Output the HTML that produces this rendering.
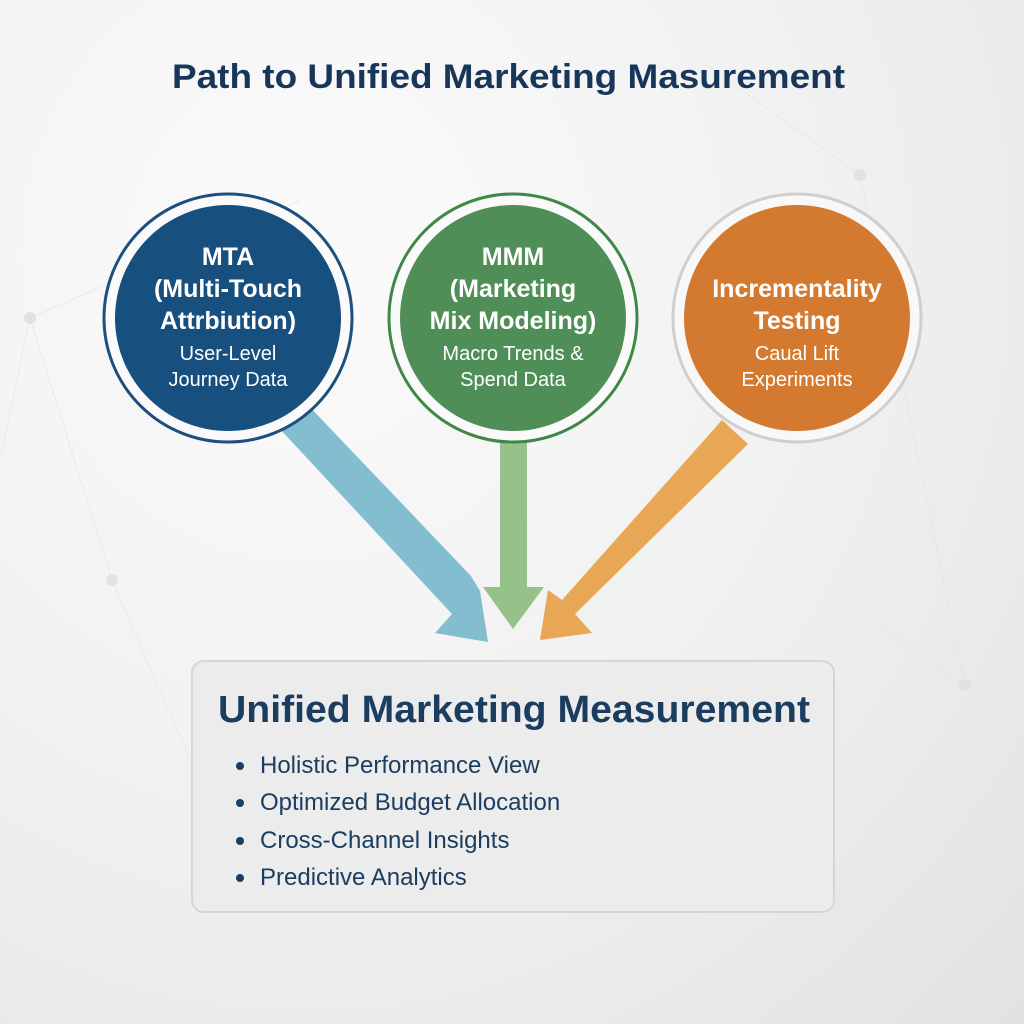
<!DOCTYPE html>
<html><head><meta charset="utf-8"><style>
html,body{margin:0;padding:0;width:1024px;height:1024px;overflow:hidden;}
body{background:radial-gradient(ellipse at 30% 25%,#fbfbfb 0%,#f0f0f0 55%,#e2e2e2 100%);}
svg{position:absolute;left:0;top:0;}
text{font-family:"Liberation Sans",sans-serif;}
</style></head><body>
<svg width="1024" height="1024" viewBox="0 0 1024 1024">
<g stroke="#e2e2e2" stroke-width="1" fill="none" opacity="0.6">
<line x1="30" y1="318" x2="112" y2="580"/><line x1="30" y1="318" x2="300" y2="200"/>
<line x1="112" y1="580" x2="190" y2="760"/><line x1="860" y1="175" x2="965" y2="685"/>
<line x1="860" y1="175" x2="700" y2="60"/><line x1="965" y1="685" x2="840" y2="600"/>
<line x1="0" y1="460" x2="30" y2="318"/>
</g>
<g fill="#e2e2e2"><circle cx="30" cy="318" r="6"/><circle cx="112" cy="580" r="6"/><circle cx="860" cy="175" r="6"/><circle cx="965" cy="685" r="6"/></g>
<text x="172" y="88" font-size="34" font-weight="bold" fill="#17365a" textLength="673" lengthAdjust="spacingAndGlyphs">Path to Unified Marketing Masurement</text>

<!-- arrows -->
<polygon points="279,428 305,402 471,576 480,591 488,642 435,633 452,614" fill="#82bdd0"/>
<polygon points="500,440 527,440 527,587 544,587 513,629 483,587 500,587" fill="#96c28a"/>
<polygon points="722,420 748,444 575,614 592,633 540,640 548,590 562,600" fill="#e8a755"/>

<!-- circles -->
<circle cx="228" cy="318" r="124" fill="#fafafa" stroke="#1d4f7e" stroke-width="3"/>
<circle cx="228" cy="318" r="113" fill="#174f7e"/>
<circle cx="513" cy="318" r="124" fill="#fafafa" stroke="#3f8848" stroke-width="3"/>
<circle cx="513" cy="318" r="113" fill="#4f8f57"/>
<circle cx="797" cy="318" r="124" fill="#f8f8f8" stroke="#cfcfcf" stroke-width="3"/>
<circle cx="797" cy="318" r="113" fill="#d47a30"/>

<g fill="#fff" text-anchor="middle" font-weight="bold" font-size="25">
<text x="228" y="265">MTA</text><text x="228" y="297">(Multi-Touch</text><text x="228" y="329">Attrbiution)</text>
<text x="513" y="265">MMM</text><text x="513" y="297">(Marketing</text><text x="513" y="329">Mix Modeling)</text>
<text x="797" y="297">Incrementality</text><text x="797" y="329">Testing</text>
</g>
<g fill="#fff" text-anchor="middle" font-size="20">
<text x="228" y="360">User-Level</text><text x="228" y="386">Journey Data</text>
<text x="513" y="360">Macro Trends &amp;</text><text x="513" y="386">Spend Data</text>
<text x="797" y="360">Caual Lift</text><text x="797" y="386">Experiments</text>
</g>

<rect x="192" y="661" width="642" height="251" rx="12" fill="#ececec" stroke="#d6d6d6" stroke-width="2"/>
<text x="218" y="722" font-size="38" font-weight="bold" fill="#1b3d60" textLength="592" lengthAdjust="spacingAndGlyphs">Unified Marketing Measurement</text>
<g fill="#1b3d60" font-size="24">
<circle cx="240" cy="766" r="4"/><text x="260" y="773">Holistic Performance View</text>
<circle cx="240" cy="803" r="4"/><text x="260" y="810">Optimized Budget Allocation</text>
<circle cx="240" cy="841" r="4"/><text x="260" y="848">Cross-Channel Insights</text>
<circle cx="240" cy="878" r="4"/><text x="260" y="885">Predictive Analytics</text>
</g>
</svg>
</body></html>
